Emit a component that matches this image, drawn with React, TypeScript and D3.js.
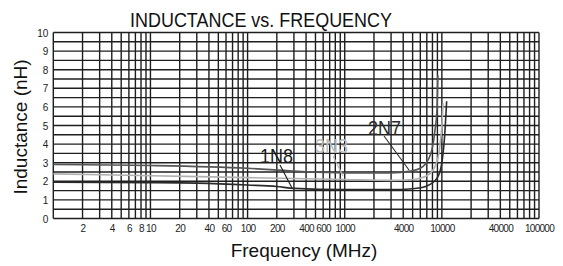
import React, { useEffect, useRef } from "react";
import * as d3 from "d3";

// frequency in MHz, inductance in nH
const freq2N7 = [1, 10, 100, 300, 1000, 3000, 4700, 6000, 6700, 7900, 8500, 8900, 9100];
const ind2N7 = [2.9, 2.85, 2.7, 2.55, 2.45, 2.45, 2.55, 2.7, 2.9, 3.7, 4.75, 5.8, 7.7];

const freq3N3 = [1, 10, 100, 1000, 3000, 5000, 7000, 8500, 9500, 10000, 10300];
const ind3N3 = [2.4, 2.3, 2.2, 2.1, 2.05, 2.1, 2.3, 2.8, 3.8, 5.0, 6.2];

const freq1N8 = [1, 10, 30, 100, 200, 300, 1000, 3000, 5000, 7000, 9000, 10000, 10700, 11200];
const ind1N8 = [1.95, 1.93, 1.9, 1.8, 1.72, 1.62, 1.55, 1.55, 1.6, 1.75, 2.2, 3.0, 4.5, 6.3];

const xTickLabels = [2, 4, 6, 8, 10, 20, 40, 60, 100, 200, 400, 600, 1000, 4000, 10000, 40000, 100000];
const yTickLabels = [0, 1, 2, 3, 4, 5, 6, 7, 8, 9, 10];

const narrow = "'Liberation Sans Narrow', 'Arial Narrow', 'Liberation Sans', Arial, sans-serif";
const sans = "'Liberation Sans', Arial, sans-serif";

export default function App() {
  const ref = useRef<SVGSVGElement>(null);

  useEffect(() => {
    const width = 563;
    const height = 266;
    const margin = { top: 32.5, right: 24, bottom: 47.5, left: 53.3 };
    const innerWidth = width - margin.left - margin.right;
    const innerHeight = height - margin.top - margin.bottom;

    const svg = d3.select(ref.current).attr("width", width).attr("height", height);
    svg.selectAll("*").remove();
    svg.append("rect").attr("width", width).attr("height", height).attr("fill", "#fff");

    const g = svg.append("g").attr("transform", `translate(${margin.left}, ${margin.top})`);

    const xScale = d3.scaleLog().domain([1, 100000]).range([0, innerWidth]);
    const yScale = d3.scaleLinear().domain([0, 10]).range([innerHeight, 0]);

    // grid: every 1..9 per decade, every 0.5 nH
    const xGrid: number[] = [];
    for (let e = 0; e < 5; e++) for (let m = 1; m < 10; m++) xGrid.push(m * Math.pow(10, e));
    xGrid.push(100000);
    const yGrid = d3.range(0, 10.01, 0.5);

    g.selectAll(".vgrid").data(xGrid).join("line").attr("class", "vgrid")
      .attr("x1", d => xScale(d)).attr("x2", d => xScale(d))
      .attr("y1", 0).attr("y2", innerHeight)
      .attr("stroke", "#1e1e1e").attr("stroke-width", 1.4);

    g.selectAll(".hgrid").data(yGrid).join("line").attr("class", "hgrid")
      .attr("x1", 0).attr("x2", innerWidth)
      .attr("y1", d => yScale(d)).attr("y2", d => yScale(d))
      .attr("stroke", "#1e1e1e").attr("stroke-width", 1.4);

    // axes
    const xAxis = d3.axisBottom(xScale).tickValues(xTickLabels).tickSize(0).tickFormat(d => String(d));
    const yAxis = d3.axisLeft(yScale).tickValues(yTickLabels).tickSize(0).tickFormat(d => String(d));

    const gx = g.append("g").attr("transform", `translate(0, ${innerHeight})`).call(xAxis);
    gx.select(".domain").remove();
    gx.selectAll("text").attr("dy", 0).attr("y", 13).attr("font-family", narrow)
      .attr("font-size", 10).attr("letter-spacing", -0.7).attr("fill", "#222");

    const gy = g.append("g").call(yAxis);
    gy.select(".domain").remove();
    gy.selectAll("text").attr("x", -5).attr("dy", "0.35em").attr("font-family", narrow)
      .attr("font-size", 10).attr("fill", "#222");

    // curves
    const line = d3.line<[number, number]>()
      .x(d => xScale(d[0])).y(d => yScale(d[1]))
      .curve(d3.curveMonotoneX);

    const series = [
      { f: freq3N3, v: ind3N3, color: "#b0b0b0", w: 1.6 },
      { f: freq2N7, v: ind2N7, color: "#555", w: 1.6 },
      { f: freq1N8, v: ind1N8, color: "#2a2a2a", w: 1.6 },
    ];
    series.forEach(s => {
      const pts = s.f.map((f, i) => [f, s.v[i]] as [number, number]);
      g.append("path").attr("d", line(pts)).attr("fill", "none")
        .attr("stroke", s.color).attr("stroke-width", s.w);
    });

    // series labels with leader lines
    const labels = [
      { text: "1N8", x: 260, y: 163, color: "#1a1a1a", lx1: 280, ly1: 165, lx2: 292, ly2: 188 },
      { text: "3N3", x: 315, y: 153, color: "#bdbdbd", lx1: 333, ly1: 156, lx2: 343, ly2: 176 },
      { text: "2N7", x: 368, y: 135, color: "#2a2a2a", lx1: 384, ly1: 136, lx2: 409, ly2: 170 },
    ];
    labels.forEach(l => {
      svg.append("line").attr("x1", l.lx1).attr("y1", l.ly1).attr("x2", l.lx2).attr("y2", l.ly2)
        .attr("stroke", l.color).attr("stroke-width", 1.1);
      svg.append("text").attr("x", l.x).attr("y", l.y).attr("font-family", narrow)
        .attr("font-size", 20).attr("fill", l.color)
        .attr("textLength", 33).attr("lengthAdjust", "spacingAndGlyphs").text(l.text);
    });

    // titles
    svg.append("text").attr("x", 261).attr("y", 27).attr("text-anchor", "middle")
      .attr("font-family", sans).attr("font-size", 21).attr("fill", "#111")
      .attr("textLength", 262).attr("lengthAdjust", "spacingAndGlyphs")
      .text("INDUCTANCE vs. FREQUENCY");
    svg.append("text").attr("x", 304).attr("y", 257).attr("text-anchor", "middle")
      .attr("font-family", sans).attr("font-size", 19).attr("fill", "#111")
      .text("Frequency (MHz)");
    svg.append("text").attr("transform", "rotate(-90)").attr("x", -127).attr("y", 27)
      .attr("text-anchor", "middle").attr("font-family", sans).attr("font-size", 19).attr("fill", "#111")
      .text("Inductance (nH)");
  }, []);

  return (
    <svg ref={ref} style={{ position: "absolute", left: 0, top: 0 }}></svg>
  );
}
